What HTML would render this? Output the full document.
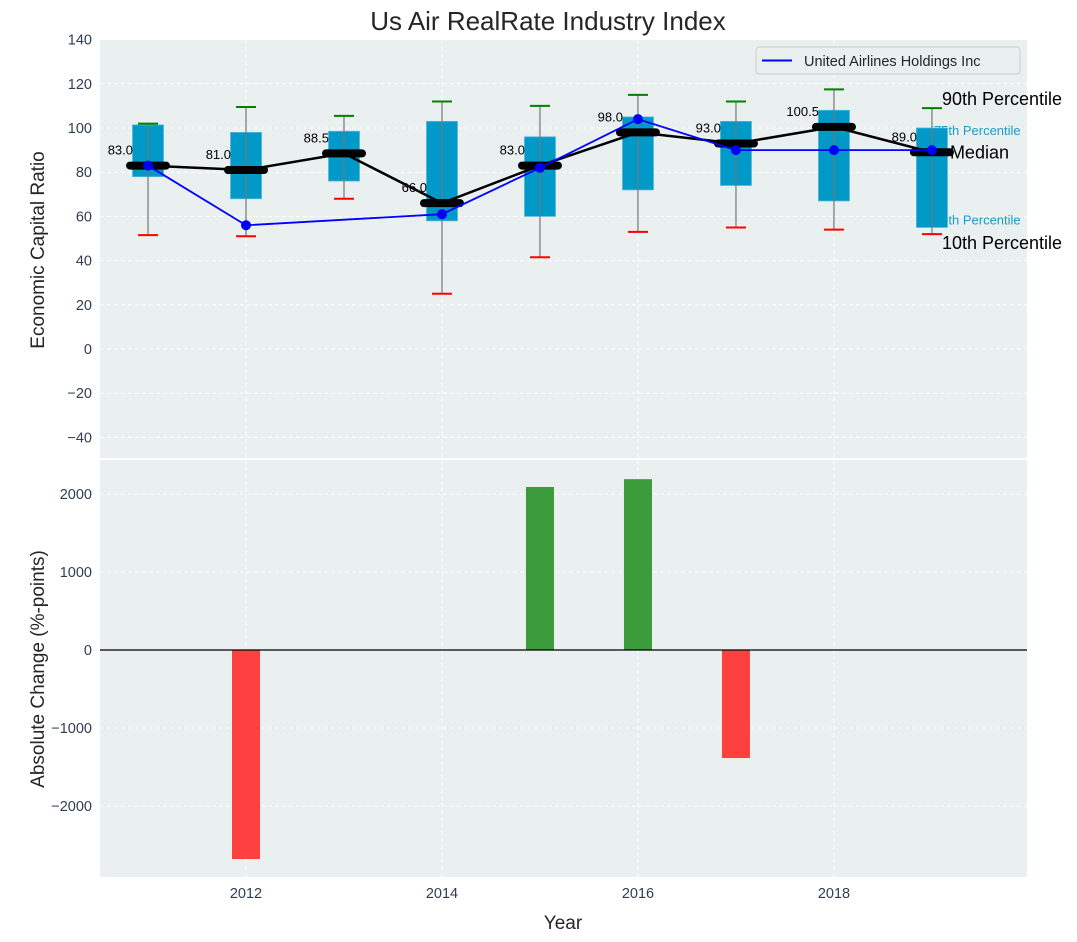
<!DOCTYPE html>
<html><head><meta charset="utf-8"><style>
body{margin:0;background:#fff}
svg{display:block;font-family:"Liberation Sans","DejaVu Sans",sans-serif}
</style></head><body>
<svg id="c" width="1077" height="942"></svg>
<script>
const years=[2011,2012,2013,2014,2015,2016,2017,2018,2019];
const p10=[51.5,51,68,25,41.5,53,55,54,52];
const q1=[78,68,76,58,60,72,74,67,55];
const med=[83,81,88.5,66,83,98,93,100.5,89];
const q3=[101.4,98,98.5,103,96,105,103,108,100];
const p90=[102,109.5,105.5,112,110,115,112,117.5,109];
const ual=[83,56,null,61,82,104,90,90,90];
const changes=[0,-2680,0,0,2090,2190,-1385,0,0];
const topTicks=[-40,-20,0,20,40,60,80,100,120,140];
const botTicks=[-2000,-1000,0,1000,2000];
const xTicks=[2012,2014,2016,2018];

const NS="http://www.w3.org/2000/svg",svg=document.getElementById('c');
function el(t,a,txt,p){const e=document.createElementNS(NS,t);for(const k in a)e.setAttribute(k,a[k]);if(txt!=null)e.textContent=txt;(p||svg).appendChild(e);return e;}
const L=100,R=1027;
const x=v=>L+(v-2010.51)/(2019.97-2010.51)*(R-L);
const yT=v=>349-v*2.21;
const yB=v=>650-v*0.078;
const tc="#2e3e50";

let e=el('rect',{x:L,y:40,width:R-L,height:418,fill:'#eaeff0'});

e=el('rect',{x:L,y:460,width:R-L,height:417,fill:'#eaeff0'});


topTicks.forEach(t=>{el('line',{x1:L,x2:R,y1:yT(t),y2:yT(t),stroke:'#fff','stroke-dasharray':'4,3'});
 e=el('text',{x:L-8,y:yT(t)+5,'text-anchor':'end','font-size':14.5,fill:tc},(t<0?'\u2212':'')+Math.abs(t));
 });
botTicks.forEach(t=>{el('line',{x1:L,x2:R,y1:yB(t),y2:yB(t),stroke:'#fff','stroke-dasharray':'4,3'});
 e=el('text',{x:L-8,y:yB(t)+5,'text-anchor':'end','font-size':14.5,fill:tc},(t<0?'\u2212':'')+Math.abs(t));
 });
xTicks.forEach(t=>{el('line',{x1:x(t),x2:x(t),y1:40,y2:458,stroke:'#fff','stroke-dasharray':'4,3'});
 el('line',{x1:x(t),x2:x(t),y1:460,y2:877,stroke:'#fff','stroke-dasharray':'4,3'});
 e=el('text',{x:x(t),y:898,'text-anchor':'middle','font-size':14.5,fill:tc},t);
 });

const lx=x(2019);
e=el('text',{x:lx+2,y:yT(q3[8])+7,'font-size':13,fill:'#1a9bc9'},'75th Percentile');
e=el('text',{x:lx+2,y:yT(q1[8])-3,'font-size':13,fill:'#1a9bc9'},'25th Percentile');

years.forEach((yr,i)=>{const cx=x(yr),bw=31;
 e=el('rect',{x:cx-bw/2,y:yT(q3[i]),width:bw,height:yT(q1[i])-yT(q3[i]),fill:'#0099c8',stroke:'#4fb6dc','stroke-width':0.8});
 
 el('line',{x1:cx,x2:cx,y1:yT(p90[i]),y2:yT(p10[i]),stroke:'#777','stroke-width':1.2});
 e=el('line',{x1:cx-10,x2:cx+10,y1:yT(p90[i]),y2:yT(p90[i]),stroke:'green','stroke-width':2});
 
 e=el('line',{x1:cx-10,x2:cx+10,y1:yT(p10[i]),y2:yT(p10[i]),stroke:'red','stroke-width':2});
 
});
e=el('polyline',{points:years.map((yr,i)=>x(yr)+','+yT(med[i])).join(' '),fill:'none',stroke:'#000','stroke-width':2.5});

years.forEach((yr,i)=>{const cx=x(yr);
 e=el('line',{x1:cx-18,x2:cx+18,y1:yT(med[i]),y2:yT(med[i]),stroke:'#000','stroke-width':8,'stroke-linecap':'round'});
 
 e=el('text',{x:cx-15,y:yT(med[i])-11,'text-anchor':'end','font-size':13,fill:'#000'},med[i].toFixed(1));
 
});
const pts=years.map((yr,i)=>ual[i]==null?null:[x(yr),yT(ual[i])]).filter(p=>p);
e=el('polyline',{points:pts.map(p=>p.join(',')).join(' '),fill:'none',stroke:'#0000ff','stroke-width':1.8});

pts.forEach(p=>{e=el('circle',{cx:p[0],cy:p[1],r:5,fill:'#0000ff'});});

e=el('text',{x:lx+10,y:yT(p90[8])-3,'font-size':18,fill:'#000'},'90th Percentile');
e=el('text',{x:lx+18,y:yT(med[8])+6,'font-size':18,fill:'#000'},'Median');
e=el('text',{x:lx+10,y:yT(p10[8])+15,'font-size':18,fill:'#000'},'10th Percentile');

const lg=el('g',{});
el('rect',{x:756,y:47,width:264,height:27,rx:3,fill:'#eaeff0',stroke:'#ccc'},null,lg);
el('line',{x1:762,x2:792,y1:60.5,y2:60.5,stroke:'#0000ff','stroke-width':2},null,lg);
el('text',{x:804,y:66,'font-size':14.5,fill:'#262626'},'United Airlines Holdings Inc',lg);

changes.forEach((v,i)=>{if(!v)return;const cx=x(years[i]);
 e=el('rect',{x:cx-14,y:Math.min(yB(v),yB(0)),width:28,height:Math.abs(yB(v)-yB(0)),fill:v>0?'#3c9c3c':'#ff4040'});
 });
el('line',{x1:L,x2:R,y1:yB(0),y2:yB(0),stroke:'#000','stroke-width':1.2});

e=el('text',{x:548,y:30,'text-anchor':'middle','font-size':26,fill:'#262626'},'Us Air RealRate Industry Index');
e=el('text',{x:563,y:929,'text-anchor':'middle','font-size':19,fill:'#262626'},'Year');
e=el('text',{transform:'translate(44,250) rotate(-90)','text-anchor':'middle','font-size':19,fill:'#262626'},'Economic Capital Ratio');
e=el('text',{transform:'translate(44,669) rotate(-90)','text-anchor':'middle','font-size':19,fill:'#262626'},'Absolute Change (%-points)');
</script>
</body></html>
